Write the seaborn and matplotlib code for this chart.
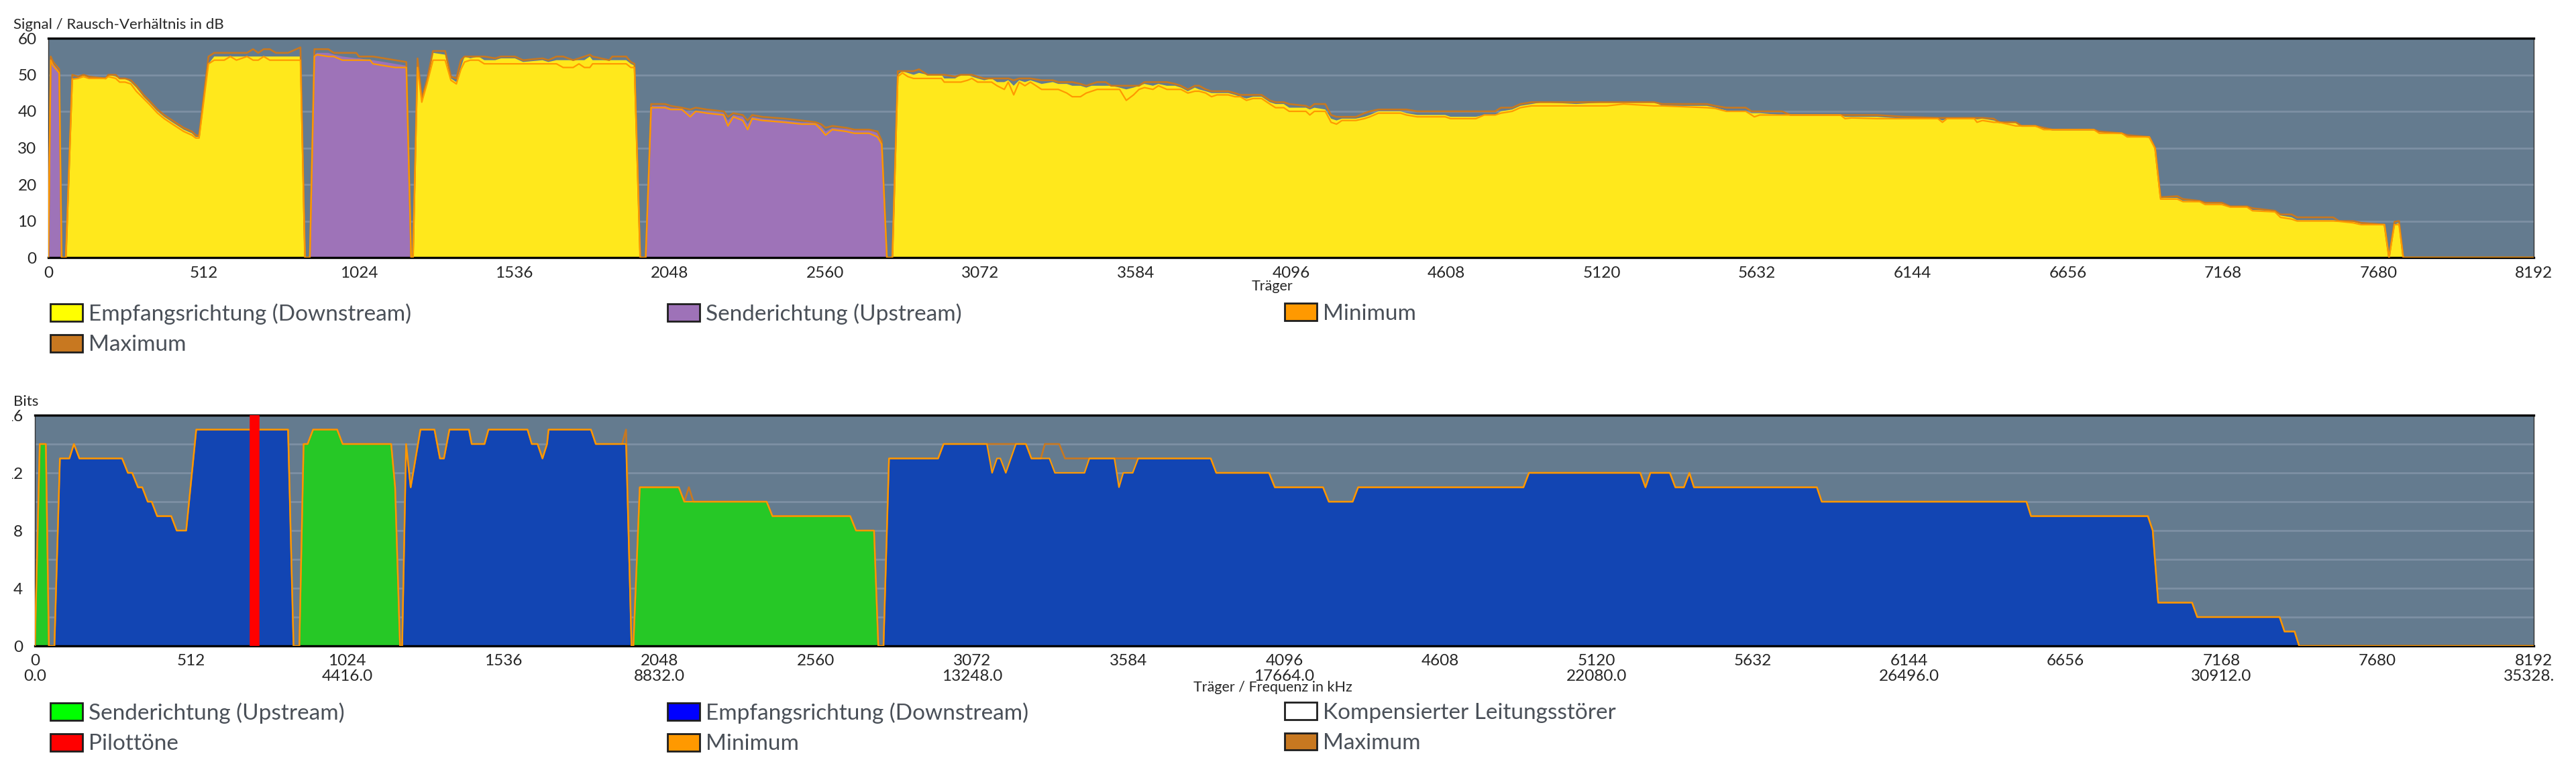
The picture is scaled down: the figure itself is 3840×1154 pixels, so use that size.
import numpy as np
import matplotlib
matplotlib.use('Agg')
import matplotlib.pyplot as plt
from matplotlib.patches import Patch
from matplotlib.transforms import Bbox
import seaborn as sns

W, H = 3840, 1154

# ---- SNR per carrier (dB) ----
snr_carrier = [0, 8, 16, 36, 44,
               58, 79, 98, 116, 134, 189, 198, 222, 235, 253, 272, 290, 314, 332, 360, 382, 409,
               446, 473, 486, 497, 528, 547, 580, 600, 620, 655, 675, 692, 710, 730, 750, 790, 831, 846,
               862, 877, 886, 923, 941, 969, 1015, 1024, 1061, 1070, 1107, 1143, 1180, 1196,
               1202, 1217, 1231, 1248, 1268, 1308, 1327, 1345, 1360, 1372, 1391, 1418, 1437, 1473,
               1492, 1538, 1565, 1629, 1648, 1675, 1697, 1730, 1749, 1767, 1785, 1794, 1849, 1859,
               1905, 1920, 1932, 1951,
               1969, 1987, 2033, 2051, 2088, 2116, 2134, 2171, 2226, 2240, 2258, 2289, 2305, 2320,
               2353, 2428, 2483, 2529, 2547, 2562, 2584, 2630, 2657, 2705, 2733, 2747, 2764,
               2782, 2800, 2815, 2833, 2852, 2870, 2898, 2944, 2953, 2989, 3008, 3030, 3044, 3063,
               3085, 3109, 3127, 3151, 3164, 3182, 3200, 3219, 3237, 3274, 3311, 3329, 3357, 3375,
               3402, 3421, 3439, 3457, 3485, 3503, 3531, 3553, 3577, 3595, 3613, 3641, 3659, 3687,
               3714, 3733, 3756, 3779, 3793, 3815, 3834, 3852, 3889, 3911, 3929, 3949, 3971, 3999,
               4026, 4045, 4072, 4090, 4145, 4158, 4173, 4209, 4228, 4246, 4264, 4310, 4338, 4356,
               4384, 4457, 4476, 4512, 4604, 4622, 4705, 4733, 4769, 4788, 4825, 4852, 4889, 4926,
               5036, 5137, 5192, 5293, 5320, 5467, 5494, 5531, 5595, 5614, 5623, 5641, 5715, 5742,
               5907, 5922, 5944, 6027, 6118, 6228, 6243, 6258, 6348, 6357, 6375, 6412, 6430, 6485,
               6504, 6550, 6577, 6605, 6742, 6760, 6834, 6852, 6925, 6944, 6962, 7017, 7036, 7091,
               7109, 7164, 7192, 7247, 7265, 7339, 7357, 7394, 7412, 7531, 7550, 7596, 7623, 7700,
               7715, 7733, 7748, 7762, 8192]
snr_db = [0, 54.5, 53, 51, 0,
          0, 49, 49, 50, 49, 49, 50, 49.5, 49, 49, 48, 46.5, 44, 42.5, 40, 38.5, 37,
          35, 34, 33, 33, 53, 55, 55, 55, 55, 55, 55, 55, 55, 55, 55, 55, 55, 0,
          0, 55.5, 56, 56, 55.5, 55, 54.5, 54.5, 54, 54, 53.5, 53, 52.5, 0,
          0, 54, 43, 48, 56, 55.5, 49, 48, 52, 55, 54.5, 55, 54, 54,
          54.5, 54.5, 53.5, 54, 53.5, 54, 54, 54, 54, 54, 55, 54, 54, 54,
          54, 53, 52.5, 0,
          0, 41.5, 41.5, 41, 40.8, 39.5, 40.2, 40, 39.5, 37.5, 39, 38.5, 36.5, 38.5,
          38, 37.5, 37, 37, 36, 34.5, 35.5, 35.2, 35, 35, 34, 32, 0,
          0, 50, 51, 50.5, 50, 50.5, 50, 50, 49, 49, 50, 50, 49.5, 49,
          48.5, 49, 48, 48, 48.5, 47, 48.5, 48, 48.5, 47.5, 48, 47.5, 47.5, 47,
          47, 46.5, 47, 47, 47, 47, 46.5, 46, 46.5, 47, 47.5, 47, 47.5, 47,
          47, 46.5, 45.5, 46.5, 46, 45.5, 45, 45, 45, 44.5, 44, 43.5, 44, 44,
          42.5, 42, 42, 41, 41, 40.5, 41, 40.5, 38, 37.5, 38, 38, 38.5, 39,
          40, 40, 39.5, 39, 39, 38.5, 38.5, 39, 39, 40, 40.5, 41.5, 42, 42.5,
          42, 42.5, 42.5, 42.5, 41.5, 41.5, 41, 40.2, 40, 39.5, 39.5, 39.5, 39, 39,
          39, 38.5, 38.5, 38.5, 38, 38, 37.5, 38, 38, 37.8, 38, 37.5, 37, 37,
          36, 36, 35.5, 35, 35, 34.5, 34, 33.5, 33, 29.8, 16.3, 16.3, 15.5, 15.5,
          14.8, 14.8, 14, 14, 13, 12.8, 11.5, 11, 10.2, 10.2, 10, 9.9, 9.2, 9,
          0, 9, 9.5, 0, 0]
snr_min = [0, 54, 52.5, 50.5, 0,
           0, 48.8, 49, 49.5, 49, 49, 49.5, 49, 48, 48, 47.5, 45.5, 43.5, 42, 39.5, 38, 36.5,
           34.5, 33.5, 32.7, 32.7, 53, 54, 54, 55, 54, 55, 54, 54, 55, 54, 54, 54, 54, 0,
           0, 55, 55.5, 55, 55, 54, 54, 54, 54, 53, 52.5, 52, 52, 0,
           0, 52, 42.5, 47.5, 54, 54, 48.5, 47.5, 51.5, 53.5, 54, 54, 53, 53,
           53, 53, 53, 53, 53, 53, 52, 52, 53, 52, 52, 53, 53, 53,
           53, 52, 52, 0,
           0, 41, 41, 40.5, 40.5, 38.5, 40, 39.5, 39, 36, 38.5, 37.5, 35, 38,
           37.5, 37, 36.5, 36.5, 35, 33.5, 35, 34.5, 34, 34, 33, 31, 0,
           0, 49.5, 50.5, 49.5, 49, 49, 49, 49, 48, 48, 48, 48.5, 49, 48,
           48, 48, 47, 46, 48, 44.5, 48, 47, 48, 46, 46, 46, 45, 44,
           44, 45, 45.5, 46, 46, 46, 46, 43, 44.5, 46, 46.5, 46, 47, 46,
           46, 46, 45, 45.5, 45.5, 45, 44, 44.5, 44.5, 44, 44, 43, 43.5, 43.5,
           42, 41, 41, 40, 40, 39, 40, 40, 37, 36.5, 37.5, 37.5, 38, 38.5,
           39.5, 39.5, 39, 38.5, 38.5, 38, 38, 39, 39, 39.5, 40, 41, 41.5, 41.5,
           41.5, 41.5, 42, 41.5, 41.5, 41, 40.8, 40, 40, 39, 38.5, 39, 39, 39,
           39, 38, 38.2, 38, 38, 38, 37, 38, 38, 37, 37.5, 37, 37, 36,
           36, 36, 35, 35, 35, 34, 34, 33, 33, 29.8, 16, 16, 15.3, 15.3,
           14.5, 14.5, 13.8, 13.8, 12.8, 12.5, 11, 10.5, 10, 10, 9.9, 9.5, 9, 9,
           0, 9, 9, 0, 0]
snr_max = [0, 55, 53.5, 51.5, 0,
           0, 50, 49.5, 50, 49.5, 49, 50, 50, 49, 49, 48.5, 47, 44.5, 43, 40.5, 39, 37.5,
           35.5, 34.5, 33.5, 33.3, 55, 56, 56, 56, 56, 56, 57, 56, 57, 57, 56, 56, 57.5, 0,
           0, 57, 57, 57, 56, 56, 56, 55, 55, 55, 54.5, 54, 53.5, 0,
           0, 54.5, 43.5, 48.5, 56.5, 56.5, 49.5, 49, 54, 55, 55, 55, 55, 54.5,
           55, 55, 54, 54.5, 54, 55, 55, 54, 54.5, 55, 55.5, 55, 54, 55,
           55, 53.5, 53, 0,
           0, 42, 42, 41.5, 41, 40.5, 41, 40.5, 40, 38.5, 39.5, 39, 37.5, 39,
           38.5, 38, 37.5, 37, 36.5, 35.5, 36, 35.5, 35, 35, 34.5, 32, 0,
           0, 51, 51, 51, 51, 51.5, 50, 50, 50, 49.5, 50, 50, 50, 49.5,
           49, 49, 49, 49, 49, 48.5, 49, 49, 49, 48.5, 48.5, 48, 48, 48,
           47.5, 47, 47.5, 48, 48, 47, 47, 47, 47, 47, 48, 48, 48, 48,
           47.5, 47, 46, 47, 47, 46, 45.5, 45.5, 45.5, 45, 44.5, 44.5, 44.5, 44.5,
           43, 42.5, 42.5, 42, 41.5, 41, 42, 42, 39, 38.5, 38.5, 38.5, 39.5, 40,
           40.5, 40.5, 40.5, 40, 40, 40, 40, 40, 40, 41, 41, 42, 42.5, 42.5,
           42.5, 42.5, 42.5, 42.5, 42, 42, 41.5, 41, 41, 40, 40, 40, 40, 39,
           39, 39, 39, 39, 38.5, 38.2, 38.2, 38.2, 38.2, 38.2, 38.2, 38, 37, 37,
           36, 36, 35.5, 35, 35, 34.5, 34, 33.5, 33, 30, 16.5, 16.8, 16, 15.5,
           15, 15, 14, 14, 13.5, 12.8, 11.8, 11.8, 11, 11, 10, 10, 9.5, 9,
           0, 9.8, 10, 0, 0]

# ---- bit loading per carrier ----
bits_carrier = [0, 16, 36, 46,
                64, 82, 113, 128, 146, 286, 305, 319, 338, 352, 370, 383, 401, 447, 465, 496,
                529, 830, 848,
                867, 881, 894, 912, 991, 1009, 1168, 1181, 1197,
                1204, 1217, 1232, 1264, 1310, 1328, 1341, 1359, 1423, 1432, 1474, 1487, 1615, 1629,
                1648, 1664, 1679, 1684, 1823, 1839, 1925, 1938, 1956,
                1962, 1983, 2111, 2129, 2144, 2159, 2399, 2418, 2673, 2692, 2751, 2765,
                2782, 2800, 2961, 2979, 3121, 3138, 3154, 3165, 3183, 3216, 3249, 3267, 3298, 3311,
                3326, 3344, 3358, 3377, 3441, 3457, 3539, 3554, 3568, 3599, 3617, 3855, 3873, 4046,
                4065, 4223, 4242, 4320, 4338, 4880, 4898, 5263, 5280, 5296, 5360, 5378, 5406, 5424,
                5439, 5842, 5858, 6529, 6544, 6927, 6943, 6961, 7072, 7089, 7359, 7375, 7408, 7423,
                8192]
bits_value = [0, 14, 14, 0,
              0, 13, 13, 14, 13, 13, 12, 12, 11, 11, 10, 10, 9, 9, 8, 8,
              15, 15, 0,
              0, 14, 14, 15, 15, 14, 14, 11, 0,
              0, 14, 11, 15, 15, 13, 13, 15, 15, 14, 14, 15, 15, 14,
              14, 13, 14, 15, 15, 14, 14, 14, 0,
              0, 11, 11, 10, 10, 10, 10, 9, 9, 8, 8, 0,
              0, 13, 13, 14, 14, 12, 13, 13, 12, 14, 14, 13, 13, 13,
              13, 12, 12, 12, 12, 13, 13, 11, 12, 12, 13, 13, 12, 12,
              11, 11, 10, 10, 11, 11, 12, 12, 11, 12, 12, 11, 11, 12,
              11, 11, 10, 10, 9, 9, 8, 3, 3, 2, 2, 1, 1, 0,
              0]
bits_min = list(bits_value)
bits_max = [0, 14, 14, 0,
            0, 13, 13, 14, 13, 13, 12, 12, 11, 11, 10, 10, 9, 9, 8, 8,
            15, 15, 0,
            0, 14, 14, 15, 15, 14, 14, 11, 0,
            0, 14, 11, 15, 15, 13, 13, 15, 15, 14, 14, 15, 15, 14,
            14, 13, 14, 15, 15, 14, 14, 15, 0,
            0, 11, 11, 10, 11, 10, 10, 9, 9, 8, 8, 0,
            0, 13, 13, 14, 14, 14, 14, 14, 14, 14, 14, 13, 13, 14,
            14, 14, 14, 13, 13, 13, 13, 13, 13, 13, 13, 13, 12, 12,
            11, 11, 10, 10, 11, 11, 12, 12, 11, 12, 12, 11, 11, 12,
            11, 11, 10, 10, 9, 9, 8, 3, 3, 2, 2, 1, 1, 0,
            0]

upstream_bands = [(0, 50), (855, 1199), (1958, 2770)]
pilot_carriers = [719]

carrier_ticks = [0, 512, 1024, 1536, 2048, 2560, 3072, 3584, 4096, 4608, 5120, 5632,
                 6144, 6656, 7168, 7680, 8192]
freq_labels = ['0.0', '4416.0', '8832.0', '13248.0', '17664.0', '22080.0', '26496.0',
               '30912.0', '35328.0']

snr_legend = [('Empfangsrichtung (Downstream)', '#ffff00'), ('Senderichtung (Upstream)', '#9e72b8'),
              ('Minimum', '#ff9900'), ('Maximum', '#c87820')]
bits_legend = [('Senderichtung (Upstream)', '#00ff00'), ('Empfangsrichtung (Downstream)', '#0000ff'),
               ('Kompensierter Leitungsstörer', '#ffffff'), ('Pilottöne', '#ff0000'),
               ('Minimum', '#ff9900'), ('Maximum', '#c87820')]

BG = '#647b8f'
GRID = '#7d90a4'
MIN_C = '#ff9900'
MAX_C = '#c87820'
LEGEND_X = [75, 995, 1915]


def upstream_mask(carriers):
    c = np.asarray(carriers)
    m = np.zeros(len(c), dtype=bool)
    for lo, hi in upstream_bands:
        m |= (c >= lo) & (c <= hi)
    return m


def style_axes(ax, ymax, pad):
    ax.set_facecolor(BG)
    ax.set_xlim(0, 8192)
    ax.set_ylim(0, ymax)
    ax.grid(False)
    ax.yaxis.grid(True, which='both', color=GRID, linewidth=2)
    ax.set_axisbelow(True)
    for side in ['top', 'bottom']:
        ax.spines[side].set_color('black')
        ax.spines[side].set_linewidth(2.4)
    for side in ['left', 'right']:
        ax.spines[side].set_color('#333333')
        ax.spines[side].set_linewidth(1)
    ax.tick_params(axis='x', length=6, width=1.2, color='#333333', pad=3, labelsize=17.5)
    ax.tick_params(axis='y', which='both', length=5, width=2, color=GRID, pad=pad, labelsize=17.5)
    ax.set_ylabel('')


def draw_lines(ax, x, lo, hi):
    sns.lineplot(x=x, y=hi, ax=ax, color=MAX_C, linewidth=1.9, estimator=None, sort=False, zorder=3)
    sns.lineplot(x=x, y=lo, ax=ax, color=MIN_C, linewidth=1.6, estimator=None, sort=False, zorder=4)


def clip_labels(ax):
    # the page crops the outermost labels (left "1" of 12/16, right end of 35328.0)
    box = Bbox.from_extents(17.5, 0, 3808, H)
    for lab in ax.get_xticklabels() + ax.get_yticklabels():
        lab.set_clip_on(True)
        lab.set_clip_box(box)


def add_legend(fig, columns, y_top):
    for x_left, entries in zip(LEGEND_X, columns):
        handles = [Patch(facecolor=c, edgecolor='#1e1e1e', linewidth=2, label=l) for l, c in entries]
        fig.legend(handles=handles, loc='upper left', bbox_to_anchor=(x_left / W, 1 - y_top / H),
                   frameon=False, fontsize=24, handlelength=1.45, handleheight=0.82,
                   handletextpad=0.25, labelspacing=0.45, borderpad=0, borderaxespad=0,
                   labelcolor='#4a5058')


def plot_snr(fig):
    ax = fig.add_axes([72 / W, 1 - 384 / H, 3705 / W, 327 / H])
    up = upstream_mask(snr_carrier)
    ax.fill_between(snr_carrier, snr_db, 0, where=~up, color='#ffe81c', linewidth=0, zorder=2)
    ax.fill_between(snr_carrier, snr_db, 0, where=up, color='#9e73b8', linewidth=0, zorder=2)
    draw_lines(ax, snr_carrier, snr_min, snr_max)
    style_axes(ax, 60, 7.5)
    ax.set_yticks([0, 10, 20, 30, 40, 50, 60])
    ax.set_xticks(carrier_ticks)
    ax.set_xticklabels([str(c) for c in carrier_ticks])
    ax.set_xlabel('Träger', fontsize=15.5, va='top')
    ax.xaxis.set_label_coords(1825 / 3705, -0.10)
    clip_labels(ax)
    fig.text(20 / W, 1 - 43 / H, 'Signal / Rausch-Verhältnis in dB', fontsize=16, va='baseline')
    add_legend(fig, [[snr_legend[0], snr_legend[3]], [snr_legend[1]], [snr_legend[2]]], 452)


def plot_bits(fig):
    ax = fig.add_axes([52 / W, 1 - 963 / H, 3725 / W, 344 / H])
    up = upstream_mask(bits_carrier)
    ax.fill_between(bits_carrier, bits_value, 0, where=~up, color='#1245b3', linewidth=0, zorder=2)
    ax.fill_between(bits_carrier, bits_value, 0, where=up, color='#26c826', linewidth=0, zorder=2)
    draw_lines(ax, bits_carrier, bits_min, bits_max)
    for c in pilot_carriers:
        ax.axvline(c, color='#ff0000', linewidth=10.5, zorder=5)
    style_axes(ax, 16, 8)
    ax.set_yticks([0, 4, 8, 12, 16])
    ax.set_yticks([2, 6, 10, 14], minor=True)
    ax.set_xticks(carrier_ticks)
    labels = []
    for i, c in enumerate(carrier_ticks):
        labels.append(f'{c}\n{freq_labels[i // 2]}' if i % 2 == 0 else str(c))
    ax.set_xticklabels(labels, linespacing=1.1)
    ax.set_xlabel('Träger / Frequenz in kHz', fontsize=15.5, va='top')
    ax.xaxis.set_label_coords(1845 / 3725, -0.15)
    clip_labels(ax)
    fig.text(20 / W, 1 - 605 / H, 'Bits', fontsize=16, va='baseline')
    add_legend(fig, [[bits_legend[0], bits_legend[3]], [bits_legend[1], bits_legend[4]],
                     [bits_legend[2], bits_legend[5]]], 1047)


if __name__ == '__main__':
    sns.set_theme(style='white')
    plt.rcParams['font.family'] = ['Lato', 'DejaVu Sans']
    fig = plt.figure(figsize=(W / 100, H / 100), dpi=100)
    plot_snr(fig)
    plot_bits(fig)
    fig.savefig('out.png', dpi=100, facecolor='white')
